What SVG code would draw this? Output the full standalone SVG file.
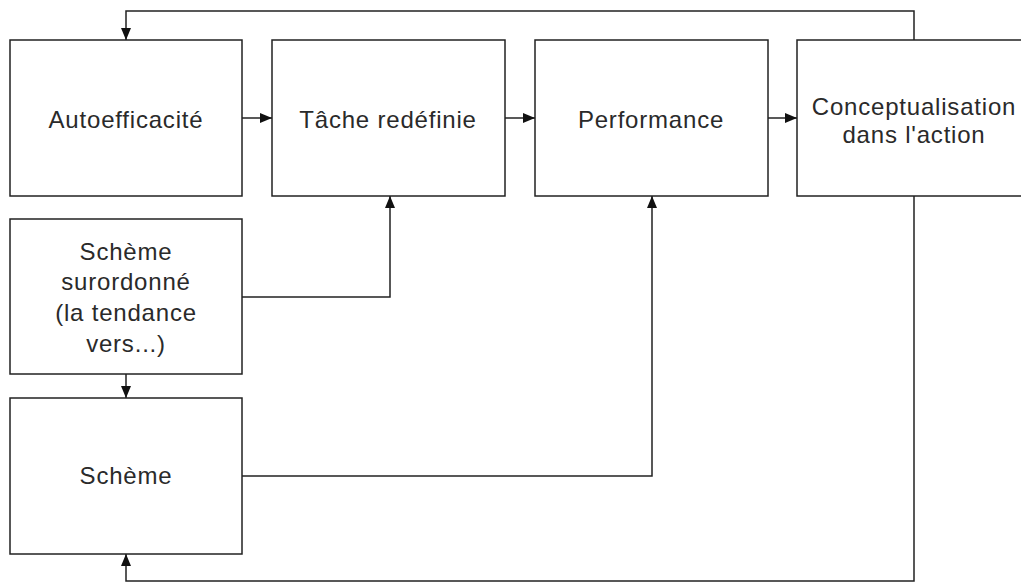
<svg xmlns="http://www.w3.org/2000/svg" width="1021" height="584" viewBox="0 0 1021 584">
<style>
.box{fill:#fff;stroke:#222;stroke-width:1.5}
.lbl{font-family:"Liberation Sans",Arial,sans-serif;font-size:24px;letter-spacing:0.8px;fill:#2a2a2a;text-anchor:middle}
.con{fill:none;stroke:#222;stroke-width:1.5}
</style>
<defs>
<marker id="ah" viewBox="0 0 12 10" refX="12" refY="5" markerWidth="12" markerHeight="10" markerUnits="userSpaceOnUse" orient="auto">
<path d="M0,0 L12,5 L0,10 Z" fill="#111"/>
</marker>
</defs>
<rect width="1021" height="584" fill="#fff"/>
<g id="connectors">
<path class="con" d="M914,40 V11 H126 V40" marker-end="url(#ah)"/>
<path class="con" d="M242,118 H272" marker-end="url(#ah)"/>
<path class="con" d="M505,118 H535" marker-end="url(#ah)"/>
<path class="con" d="M768,118 H797" marker-end="url(#ah)"/>
<path class="con" d="M242,297 H390 V196" marker-end="url(#ah)"/>
<path class="con" d="M242,476 H652 V196" marker-end="url(#ah)"/>
<path class="con" d="M126,374 V398" marker-end="url(#ah)"/>
<path class="con" d="M914,196 V581 H126 V554" marker-end="url(#ah)"/>
</g>
<g id="autoefficacite">
<rect class="box" x="10" y="40" width="232" height="156"/>
<text class="lbl" x="126" y="128">Autoefficacité</text>
</g>
<g id="tache">
<rect class="box" x="272" y="40" width="233" height="156"/>
<text class="lbl" x="388" y="128">Tâche redéfinie</text>
</g>
<g id="performance">
<rect class="box" x="535" y="40" width="233" height="156"/>
<text class="lbl" x="651" y="128">Performance</text>
</g>
<g id="conceptualisation">
<rect class="box" x="797" y="40" width="234" height="156"/>
<text class="lbl" x="914" y="115">Conceptualisation</text>
<text class="lbl" x="914" y="143">dans l'action</text>
</g>
<g id="scheme-surordonne">
<rect class="box" x="10" y="219" width="232" height="155"/>
<text class="lbl" x="126" y="260">Schème</text>
<text class="lbl" x="126" y="290">surordonné</text>
<text class="lbl" x="126" y="321">(la tendance</text>
<text class="lbl" x="126" y="352">vers...)</text>
</g>
<g id="scheme">
<rect class="box" x="10" y="398" width="232" height="156"/>
<text class="lbl" x="126" y="484">Schème</text>
</g>
</svg>
